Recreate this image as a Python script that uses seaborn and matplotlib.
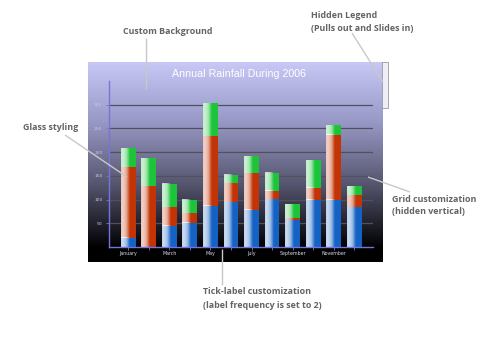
import numpy as np
import pandas as pd
import matplotlib
matplotlib.use("Agg")
import matplotlib.pyplot as plt
from matplotlib.patches import Rectangle
import seaborn as sns

# ---- data -------------------------------------------------------------
months = ["January", "February", "March", "April", "May", "June",
          "July", "August", "September", "October", "November", "December"]
rain_blue = [20, 0, 45, 51, 87, 94, 79, 101, 56, 100, 100, 84]
rain_red = [148, 128, 39, 20, 146, 40, 77, 18, 5, 25, 137, 25]
rain_green = [40, 59, 49, 29, 70, 18, 35, 38, 29, 58, 20, 19]
y_ticks = [50, 100, 150, 200, 250, 300]
label_every = 2

title = "Annual Rainfall During 2006"

# ---- figure -----------------------------------------------------------
W, H = 491, 337
DPI = 100
fig = plt.figure(figsize=(W / DPI, H / DPI), dpi=DPI, facecolor="white")


def px_box(x0, y0, x1, y1):
    """Figure-fraction rectangle from pixel corners (origin top-left)."""
    return [x0 / W, 1 - y1 / H, (x1 - x0) / W, (y1 - y0) / H]


# panel background: lavender fading to black
bg = fig.add_axes(px_box(88, 62, 383, 262), zorder=0)
stops_t = [0.0, 0.3, 0.6, 0.85, 0.93, 1.0]
stops_c = np.array([[200, 200, 246], [152, 152, 198], [88, 88, 114],
                    [22, 22, 30], [0, 0, 0], [0, 0, 0]]) / 255.0
t = np.linspace(0, 1, 256)
grad = np.stack([np.interp(t, stops_t, stops_c[:, k]) for k in range(3)], axis=-1)
bg.imshow(grad[:, None, :], aspect="auto", extent=(0, 1, 1, 0),
          interpolation="bilinear")
bg.set_xlim(0, 1)
bg.set_ylim(1, 0)
bg.axis("off")

# plotting area
ax = fig.add_axes(px_box(108.7, 81, 373, 247), zorder=1)
ax.set_facecolor("none")

df = pd.DataFrame({"month": months, "blue": rain_blue,
                   "red": rain_red, "green": rain_green})
df["low"] = df["blue"]
df["mid"] = df["blue"] + df["red"]
df["top"] = df["mid"] + df["green"]

# white "glass" sheen across each bar, strongest on the left
xs = np.linspace(0, 1, 64)
alpha = np.interp(xs, [0.0, 0.12, 0.35, 0.6, 1.0], [0.72, 0.78, 0.6, 0.0, 0.0])
glass = np.ones((1, 64, 4))
glass[0, :, 3] = alpha

layers = [("top", "#1cc43a"), ("mid", "#c23406"), ("low", "#1462c4")]
for i, (col, color) in enumerate(layers):
    n_before = len(ax.patches)
    sns.barplot(data=df, x="month", y=col, order=months, color=color,
                saturation=1, width=0.72, errorbar=None, linewidth=0,
                edgecolor="none", ax=ax)
    z = 3 + 2 * i
    for p in ax.patches[n_before:]:
        p.set_zorder(z)
        x, y = p.get_xy()
        w, h = p.get_width(), p.get_height()
        if h <= 0:
            continue
        ax.imshow(glass, extent=(x, x + w, y, y + h), aspect="auto",
                  interpolation="bilinear", zorder=z + 0.5)

ax.set_xlim(-0.95, 11.91)
ax.set_ylim(0, 350)

# axes styling
spine_col = "#7474dc"
for s in ["top", "right"]:
    ax.spines[s].set_visible(False)
for s in ["left", "bottom"]:
    ax.spines[s].set_color(spine_col)
    ax.spines[s].set_linewidth(1.0)
    ax.spines[s].set_zorder(20)

ax.set_yticks(y_ticks)
ax.set_yticklabels([str(v) for v in y_ticks])
ax.set_xticks(range(len(months)))
ax.set_xticklabels([m if k % label_every == 0 else "" for k, m in enumerate(months)])
ax.tick_params(axis="y", length=2, width=0.6, color=spine_col, pad=2.5,
               labelsize=3.2, labelcolor="#c8c8ec")
ax.tick_params(axis="x", length=2, width=0.6, color=spine_col, pad=1.2,
               labelsize=3.4, labelcolor="#dcdcec")
ax.yaxis.grid(True, color="#50505e", linewidth=0.9)
ax.xaxis.grid(False)
ax.set_axisbelow(True)
ax.set_xlabel("")
ax.set_ylabel("")

fig.text(238.5 / W, 1 - 74 / H, title, color="white", ha="center", va="center",
         fontsize=7.7, family="Liberation Sans")

# overlay for callouts, in pixel coordinates
ov = fig.add_axes([0, 0, 1, 1], zorder=30)
ov.set_xlim(0, W)
ov.set_ylim(H, 0)
ov.axis("off")
ov.patch.set_alpha(0)

# slide-out legend tab on the right edge
ov.add_patch(Rectangle((382.5, 62), 5.5, 46, facecolor="#eeeef6",
                       edgecolor="#9a9aa6", linewidth=0.6))

line_kw = dict(color="#c8c8c8", linewidth=1.0, solid_capstyle="butt")
ov.plot([146, 146], [38, 89], **line_kw)
ov.plot([352, 383], [33, 82], **line_kw)
ov.plot([65, 127], [135, 177], **line_kw)
ov.plot([368, 410], [177, 192], **line_kw)
ov.plot([221.7, 221.7], [249, 285], **line_kw)

txt_kw = dict(color="#636363", fontsize=6.4, family="Open Sans", weight="bold",
              ha="left", va="center")
ov.text(123, 32, "Custom Background", **txt_kw)
ov.text(311, 15.7, "Hidden Legend", **txt_kw)
ov.text(311, 28.7, "(Pulls out and Slides in)", **txt_kw)
ov.text(23, 128, "Glass styling", **txt_kw)
ov.text(392, 199, "Grid customization", **txt_kw)
ov.text(392, 212, "(hidden vertical)", **txt_kw)
ov.text(203, 291.7, "Tick-label customization", **txt_kw)
ov.text(203, 305.7, "(label frequency is set to 2)", **txt_kw)

fig.savefig("out.png", dpi=DPI, facecolor="white")
